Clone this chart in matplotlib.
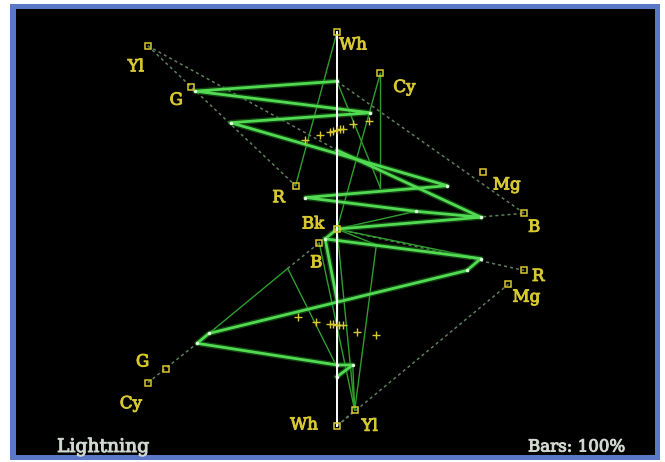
import matplotlib
matplotlib.use("Agg")
import matplotlib.pyplot as plt
import matplotlib.patheffects as pe
from matplotlib.patches import Rectangle

# ---------------- data (display units: x = chroma, y = luma; Bk at origin) -------------
top_names = ["Wh", "Yl", "Cy", "G", "Mg", "R", "B", "Bk"]
top_x = [0, -96, 22, -74, 74, -21, 95, 0]
top_y = [100, 93, 79, 72, 29, 22, 8, 0]

bot_names = ["Wh", "Yl", "Cy", "G", "Mg", "R", "B"]
bot_x = [0, 9, -96, -87, 87, 95, -9]
bot_y = [-100, -92, -78, -71, -28, -21, -7]

# measured trace (upper half: luma vs B-Y, lower half: luma vs R-Y)
top_trace_x = [0, -72, 17, -54, 56, -16, 40, 73, 0]
top_trace_y = [75, 70, 59, 54, 22, 16, 9, 6, 0]
bot_trace_x = [0, 8, 0, -71, -65, 66, 73, -6, 0]
bot_trace_y = [-75, -69, -69, -58, -53, -21, -15, -5, 0]

# extra bright transition segments
extra_thick = [((0, 40), (73, 6)), ((-6, -5), (0, -36))]
# thin transition segments
thin_segs = [((0, 100), (-21, 22)), ((22, 79), (0, 0)), ((22, 79), (22, 21)),
             ((0, 75), (22, 21)), ((40, 9), (0, 0)), ((73, 6), (0, 0)),
             ((-65, -53), (-25, -20)), ((-25, -20), (0, -70)),
             ((-9, -7), (9, -92)), ((0, 0), (9, -92)), ((20, -8), (9, -92)),
             ((0, 0), (73, -15)), ((0, -36), (0, -75)), ((8, -69), (9, -92)),
             ((0, 0), (20, -8))]
# faint dotted segments
dash_segs = [((-96, 93), (-21, 22)), ((-96, 93), (0, 40)), ((0, 75), (95, 8)),
             ((0, 0), (95, 8)), ((0, 0), (95, -21)), ((0, -100), (87, -28)),
             ((-96, -78), (-71, -58)), ((-25, -20), (-9, -7)),
             ((0, -100), (9, -92))]

plus_top_x = [-16, -8.6, -3.6, -2.0, 0, 1.5, 3.0, 8.1, 16.2]
plus_top_y = [45, 47.7, 49.2, 49.7, 50.3, 50.8, 50.8, 53.3, 54.8]
plus_bot_x = [-19.8, -10.7, -3.6, -2.0, 0, 1.0, 3.0, 10.2, 19.8]
plus_bot_y = [-44.7, -47.2, -48.2, -48.2, -48.7, -48.7, -48.7, -52.3, -53.8]

# label offsets (pixels) relative to the target boxes
top_off = [(16, -13), (-12, -21), (24, -14), (-15, -13), (24, -13), (-17, -12), (10, -14), (-24, 5)]
bot_off = [(-33, 1), (15, -16), (-17, -21), (-23, 7), (18, -13), (14, -6), (-3, -20)]

# ---------------- drawing -------------
W, H = 665, 462
fig = plt.figure(figsize=(W / 100, H / 100), dpi=100)
fig.patch.set_facecolor("white")
frame = Rectangle((10 / W, 1 - 460 / H), 650 / W, 456 / H,
                  transform=fig.transFigure, facecolor="#5a78c8",
                  edgecolor="none", zorder=-5)
fig.add_artist(frame)
ax = fig.add_axes([16 / W, 1 - 455 / H, (655 - 16) / W, (455 - 9) / H])
ax.set_zorder(1)
ax.set_facecolor("black")
ax.set_xlim(-162.9, 161.4)
ax.set_ylim(-114.7, 111.7)
for s in ax.spines.values():
    s.set_visible(False)
ax.set_xticks([])
ax.set_yticks([])

YEL = "#d8c830"
for (a, b) in dash_segs:
    ax.plot([a[0], b[0]], [a[1], b[1]], color="#5e7e5e", lw=1.1, ls=(0, (2, 2)), zorder=1)
for (a, b) in thin_segs:
    ax.plot([a[0], b[0]], [a[1], b[1]], color="#2e9e2e", lw=1.0, zorder=2)

def thick(xs, ys):
    ax.plot(xs, ys, color="#1e7a1e", lw=4.0, alpha=0.55, solid_joinstyle="round", zorder=3)
    ax.plot(xs, ys, color="#52da52", lw=2.0, solid_joinstyle="round", zorder=4)

thick(top_trace_x, top_trace_y)
thick(bot_trace_x, bot_trace_y)
for (a, b) in extra_thick:
    thick([a[0], b[0]], [a[1], b[1]])
ax.plot(top_trace_x[:-1] + bot_trace_x[:-1], top_trace_y[:-1] + bot_trace_y[:-1],
        ls="none", marker="o", ms=2.5, color="#e0ffe0", mec="none", zorder=5)

# centre axis
ax.plot([top_x[0], bot_x[0]], [top_y[0], bot_y[0]], color="white", lw=1.4, zorder=6)

# plus markers
ax.plot(plus_top_x + plus_bot_x, plus_top_y + plus_bot_y, ls="none", marker="+",
        ms=6, mew=1.0, color=YEL, zorder=7)

bold_yel = [pe.withStroke(linewidth=0.7, foreground=YEL)]
# target boxes & labels
for names, xs, ys, offs in [(top_names, top_x, top_y, top_off), (bot_names, bot_x, bot_y, bot_off)]:
    ax.plot(xs, ys, ls="none", marker="s", ms=5, mfc="none", mec=YEL, mew=1.1, zorder=8)
    for n, x, y, o in zip(names, xs, ys, offs):
        ax.annotate(n, (x, y), xytext=o, textcoords="offset pixels", ha="center",
                    va="center", color=YEL, fontsize=12, family="DejaVu Serif",
                    path_effects=bold_yel, zorder=9)

GRY = "#d0d8d0"
bold_gry = [pe.withStroke(linewidth=0.7, foreground=GRY)]
fig.text(57 / W, 1 - 447 / H, "Lightning", ha="left", va="center", color=GRY,
         fontsize=13.5, family="DejaVu Serif", path_effects=bold_gry, zorder=10)
fig.text(625 / W, 1 - 447 / H, "Bars: 100%", ha="right", va="center", color=GRY,
         fontsize=12, family="DejaVu Serif", path_effects=bold_gry, zorder=10)

fig.savefig("out.png", dpi=100, facecolor="white")
